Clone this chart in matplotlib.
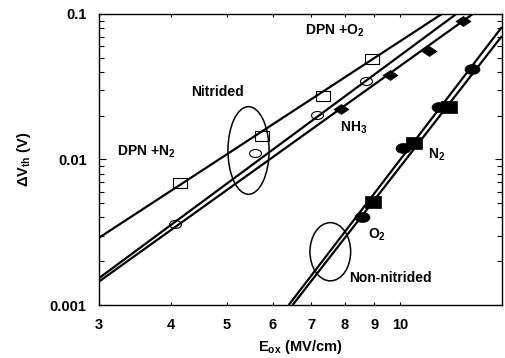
import matplotlib
matplotlib.use("Agg")
import matplotlib.pyplot as plt
from matplotlib.patches import Ellipse
from matplotlib.path import Path
from matplotlib.transforms import Affine2D
from matplotlib.ticker import FixedLocator, NullFormatter, NullLocator

# Measured threshold voltage shift vs oxide field
dpn_n2_e = [4.15, 5.75, 7.35, 8.92]
dpn_n2_dv = [0.0069, 0.0145, 0.0273, 0.049]
dpn_o2_e = [4.07, 5.59, 7.17, 8.71]
dpn_o2_dv = [0.0036, 0.0111, 0.0202, 0.0346]
nh3_e = [7.89, 9.58, 11.22, 12.84]
nh3_dv = [0.0222, 0.0381, 0.0557, 0.0895]
o2_e = [8.57, 10.09, 11.68, 13.31]
o2_dv = [0.0040, 0.0120, 0.0230, 0.0419]
n2_e = [8.96, 10.54, 12.15]
n2_dv = [0.0051, 0.0130, 0.0230]

# Power-law fit lines (end points)
fit_dpn_n2_e = [3, 11.8]
fit_dpn_n2_dv = [0.0029, 0.1]
fit_dpn_o2_e = [3, 12.5]
fit_dpn_o2_dv = [0.00153, 0.1]
fit_nh3_e = [3, 13.35]
fit_nh3_dv = [0.00145, 0.1]
fit_o2_e = [6.40, 15]
fit_o2_dv = [0.001, 0.0814]
fit_n2_e = [6.50, 15]
fit_n2_dv = [0.001, 0.0706]

x_ticks = [3, 4, 5, 6, 7, 8, 9, 10]

plt.rcParams["font.family"] = ["Liberation Sans", "DejaVu Sans"]
plt.rcParams["font.weight"] = "bold"
plt.rcParams["mathtext.fontset"] = "custom"
plt.rcParams["mathtext.rm"] = "Liberation Sans:bold"
plt.rcParams["mathtext.it"] = "Liberation Sans:bold"
plt.rcParams["mathtext.bf"] = "Liberation Sans:bold"


# wide markers (the figure is a bit stretched horizontally)
def wide(path, sx):
    return path.transformed(Affine2D().scale(sx, 1.0))


rect = Path([(-1, -1), (1, -1), (1, 1), (-1, 1), (-1, -1)],
            [Path.MOVETO, Path.LINETO, Path.LINETO, Path.LINETO, Path.CLOSEPOLY])
diamond = Path([(-1, 0), (0, 1), (1, 0), (0, -1), (-1, 0)],
               [Path.MOVETO, Path.LINETO, Path.LINETO, Path.LINETO, Path.CLOSEPOLY])
oval = Path.unit_circle()

fig = plt.figure(figsize=(5.06, 3.58), dpi=100)
ax = fig.add_axes([0.1957, 0.148, 0.7963, 0.813])

# fit lines
for fe, fv in [(fit_dpn_n2_e, fit_dpn_n2_dv), (fit_dpn_o2_e, fit_dpn_o2_dv),
               (fit_nh3_e, fit_nh3_dv), (fit_o2_e, fit_o2_dv), (fit_n2_e, fit_n2_dv)]:
    ax.plot(fe, fv, color="black", lw=1.6, solid_capstyle="butt")

# data points
ax.plot(dpn_n2_e, dpn_n2_dv, ls="none", marker=wide(rect, 1.5), ms=10,
        mfc="none", mec="black", mew=0.8)
ax.plot(dpn_o2_e, dpn_o2_dv, ls="none", marker=wide(oval, 1.5), ms=8.6,
        mfc="none", mec="black", mew=0.8)
ax.plot(nh3_e, nh3_dv, ls="none", marker=wide(diamond, 1.5), ms=10.8,
        mfc="black", mec="black", mew=0.5)
ax.plot(o2_e, o2_dv, ls="none", marker=wide(oval, 1.5), ms=10.8,
        mfc="black", mec="black", mew=0.5)
ax.plot(n2_e, n2_dv, ls="none", marker=wide(rect, 1.36), ms=10.8,
        mfc="black", mec="black", mew=0.5)

ax.set_xscale("log")
ax.set_yscale("log")
ax.set_xlim(3, 15)
ax.set_ylim(0.001, 0.1)

# x ticks only at 3..10
ax.xaxis.set_major_locator(FixedLocator(x_ticks))
ax.xaxis.set_minor_locator(NullLocator())
ax.set_xticklabels([str(t) for t in x_ticks])
ax.set_yticks([0.001, 0.01, 0.1])
ax.set_yticklabels(["0.001", "0.01", "0.1"])
ax.yaxis.set_minor_formatter(NullFormatter())

ax.tick_params(axis="x", which="major", direction="in", top=True, length=2.5,
               width=0.8, pad=9, labelsize=10.5)
ax.tick_params(axis="y", which="major", direction="in", right=True, length=5,
               width=0.8, pad=9, labelsize=10.5)
ax.tick_params(axis="y", which="minor", direction="in", right=True, length=3.5,
               width=0.8)
for sp in ax.spines.values():
    sp.set_linewidth(1.0)

ax.set_xlabel("E$_{ox}$ (MV/cm)", fontsize=10.5, fontweight="bold", labelpad=5)
ax.set_ylabel("ΔV$_{th}$ (V)", fontsize=10.5, fontweight="bold", labelpad=12)

# group outlines
ax.add_patch(Ellipse((0.371, 0.531), 0.102, 0.301, transform=ax.transAxes,
                     fill=False, lw=1.1, color="black"))
ax.add_patch(Ellipse((0.574, 0.183), 0.101, 0.200, transform=ax.transAxes,
                     fill=False, lw=1.1, color="black"))

# labels
ax.text(0.293, 0.732, "Nitrided", transform=ax.transAxes, ha="center",
        va="center", fontsize=10)
ax.text(0.045, 0.515, "DPN +N$_2$", transform=ax.transAxes, ha="left",
        va="baseline", fontsize=10)
ax.text(0.511, 0.928, "DPN +O$_2$", transform=ax.transAxes, ha="left",
        va="baseline", fontsize=10)
ax.text(0.598, 0.596, "NH$_3$", transform=ax.transAxes, ha="left",
        va="baseline", fontsize=10)
ax.text(0.816, 0.504, "N$_2$", transform=ax.transAxes, ha="left",
        va="baseline", fontsize=10)
ax.text(0.667, 0.227, "O$_2$", transform=ax.transAxes, ha="left",
        va="baseline", fontsize=10)
ax.text(0.620, 0.080, "Non-nitrided", transform=ax.transAxes, ha="left",
        va="baseline", fontsize=10)

plt.savefig("out.png", dpi=100)
plt.close()
